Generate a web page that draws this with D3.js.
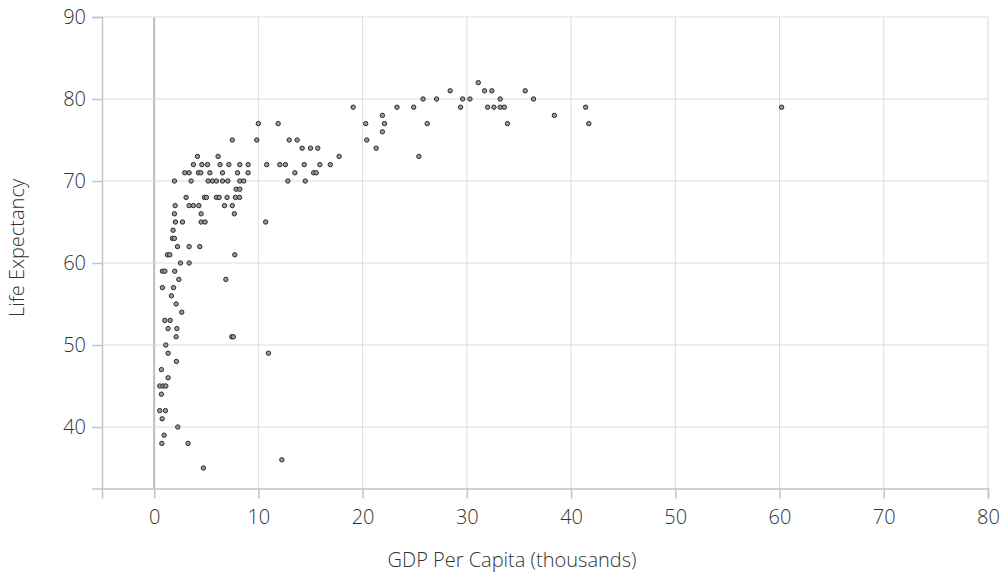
<!DOCTYPE html>
<html>
<head>
<meta charset="utf-8">
<script src="https://cdn.jsdelivr.net/npm/d3@7"></script>
<style>
  html, body { margin: 0; padding: 0; background: #fff; }
  svg { display: block; }
  text { font-family: "Open Sans", "DejaVu Sans", sans-serif; font-weight: 300; }
</style>
</head>
<body>
<svg id="chart" width="1003" height="575"></svg>
<script>
// GDP per capita (thousands) and life expectancy
const gdp = [
  31.1,
  28.4, 31.7, 32.4, 35.6,
  25.8, 27.1, 29.6, 30.3, 33.2, 36.4,
  19.1, 23.3, 24.9, 29.4, 32.0, 32.6, 33.2, 33.6, 41.4, 60.2,
  21.9, 38.4,
  10.0, 11.9, 20.3, 22.1, 26.2, 33.9, 41.7,
  21.9,
  7.5, 9.85, 12.96, 13.72, 20.4,
  14.2, 15.0, 15.7, 21.3,
  4.16, 6.14, 17.75, 25.4,
  3.77, 4.58, 5.12, 6.33, 7.17, 8.22, 9.02, 10.8, 12.06, 12.6, 14.4, 15.9, 16.9,
  2.94, 3.36, 4.25, 4.48, 5.35, 6.56, 8.0, 9.02, 13.5, 15.3, 15.55,
  1.95, 3.55, 5.18, 5.6, 5.98, 6.56, 7.07, 8.22, 8.6, 12.83, 14.5,
  7.87, 8.22,
  3.07, 4.83, 5.02, 5.98, 6.24, 7.0, 7.8, 8.19,
  2.02, 3.36, 3.77, 4.29, 6.75, 7.5,
  1.95, 4.51, 7.7,
  2.04, 2.72, 4.51, 4.89, 10.7,
  1.82,
  1.76, 1.95,
  2.24, 3.36, 4.38,
  1.28, 1.5, 7.74,
  2.53, 3.36,
  0.8, 1.03, 1.98,
  2.37, 6.88,
  0.8, 1.86,
  1.66,
  2.11,
  2.65,
  1.03, 1.54,
  1.34, 2.18,
  2.11, 7.45, 7.6,
  1.12,
  1.34, 10.97,
  2.14,
  0.7,
  1.34,
  0.54, 0.86, 1.12,
  0.7,
  0.54, 1.09,
  0.77,
  2.27,
  0.96,
  0.74, 3.26,
  12.25,
  4.73
];
const lifeExp = [
  82,
  81, 81, 81, 81,
  80, 80, 80, 80, 80, 80,
  79, 79, 79, 79, 79, 79, 79, 79, 79, 79,
  78, 78,
  77, 77, 77, 77, 77, 77, 77,
  76,
  75, 75, 75, 75, 75,
  74, 74, 74, 74,
  73, 73, 73, 73,
  72, 72, 72, 72, 72, 72, 72, 72, 72, 72, 72, 72, 72,
  71, 71, 71, 71, 71, 71, 71, 71, 71, 71, 71,
  70, 70, 70, 70, 70, 70, 70, 70, 70, 70, 70,
  69, 69,
  68, 68, 68, 68, 68, 68, 68, 68,
  67, 67, 67, 67, 67, 67,
  66, 66, 66,
  65, 65, 65, 65, 65,
  64,
  63, 63,
  62, 62, 62,
  61, 61, 61,
  60, 60,
  59, 59, 59,
  58, 58,
  57, 57,
  56,
  55,
  54,
  53, 53,
  52, 52,
  51, 51, 51,
  50,
  49, 49,
  48,
  47,
  46,
  45, 45, 45,
  44,
  42, 42,
  41,
  40,
  39,
  38, 38,
  36,
  35
];
const xTicks = [0, 10, 20, 30, 40, 50, 60, 70, 80];
const yTicks = [40, 50, 60, 70, 80, 90];
const xDomain = [-5, 80];
const yDomain = [32.5, 90];
const xTitle = "GDP Per Capita (thousands)";
const yTitle = "Life Expectancy";

const margin = { top: 17, right: 15, bottom: 86.5, left: 102 };
const W = 1003, H = 575;
const iw = W - margin.left - margin.right;
const ih = H - margin.top - margin.bottom;

const svg = d3.select("#chart");
const g = svg.append("g").attr("transform", `translate(${margin.left},${margin.top})`);

const x = d3.scaleLinear().domain(xDomain).range([0, iw]);
const y = d3.scaleLinear().domain(yDomain).range([ih, 0]);

// gridlines
g.append("g").selectAll("line").data(xTicks).join("line")
  .attr("x1", d => x(d)).attr("x2", d => x(d))
  .attr("y1", 0).attr("y2", ih)
  .attr("stroke", d => d === 0 ? "#bdbdbd" : "#dcdcdc")
  .attr("stroke-width", d => d === 0 ? 2 : 1);
g.append("g").selectAll("line").data(yTicks).join("line")
  .attr("x1", 0).attr("x2", iw)
  .attr("y1", d => y(d)).attr("y2", d => y(d))
  .attr("stroke", "#dcdcdc").attr("stroke-width", 1);

// axes
const xAxis = d3.axisBottom(x).tickValues(xTicks).tickSize(10).tickSizeOuter(10).tickPadding(11);
const yAxis = d3.axisLeft(y).tickValues(yTicks).tickSize(10).tickSizeOuter(10).tickPadding(6);

const gx = g.append("g").attr("transform", `translate(0,${ih})`).call(xAxis);
const gy = g.append("g").call(yAxis);
[gx, gy].forEach(a => {
  a.select(".domain").attr("stroke", "#c4c4c4").attr("stroke-width", 1.5);
  a.selectAll(".tick line").attr("stroke", "#c4c4c4").attr("stroke-width", 1.5);
  a.selectAll(".tick text").attr("fill", "#333").style("font-size", "20px")
    .style("font-family", '"Open Sans", sans-serif').style("font-weight", 300);
});

// points
g.append("g").selectAll("circle").data(gdp.map((d, i) => [d, lifeExp[i]])).join("circle")
  .attr("cx", d => x(d[0])).attr("cy", d => y(d[1]))
  .attr("r", 2.2)
  .attr("fill", "#9a9a9a").attr("stroke", "#2a2a2a").attr("stroke-width", 1);

// titles
svg.append("text")
  .attr("x", 512)
  .attr("y", 567)
  .attr("text-anchor", "middle")
  .attr("fill", "#333").style("font-size", "20px")
  .text(xTitle);
svg.append("text")
  .attr("transform", `translate(24,248) rotate(-90)`)
  .attr("text-anchor", "middle")
  .attr("fill", "#333").style("font-size", "20px")
  .text(yTitle);
</script>
</body>
</html>
